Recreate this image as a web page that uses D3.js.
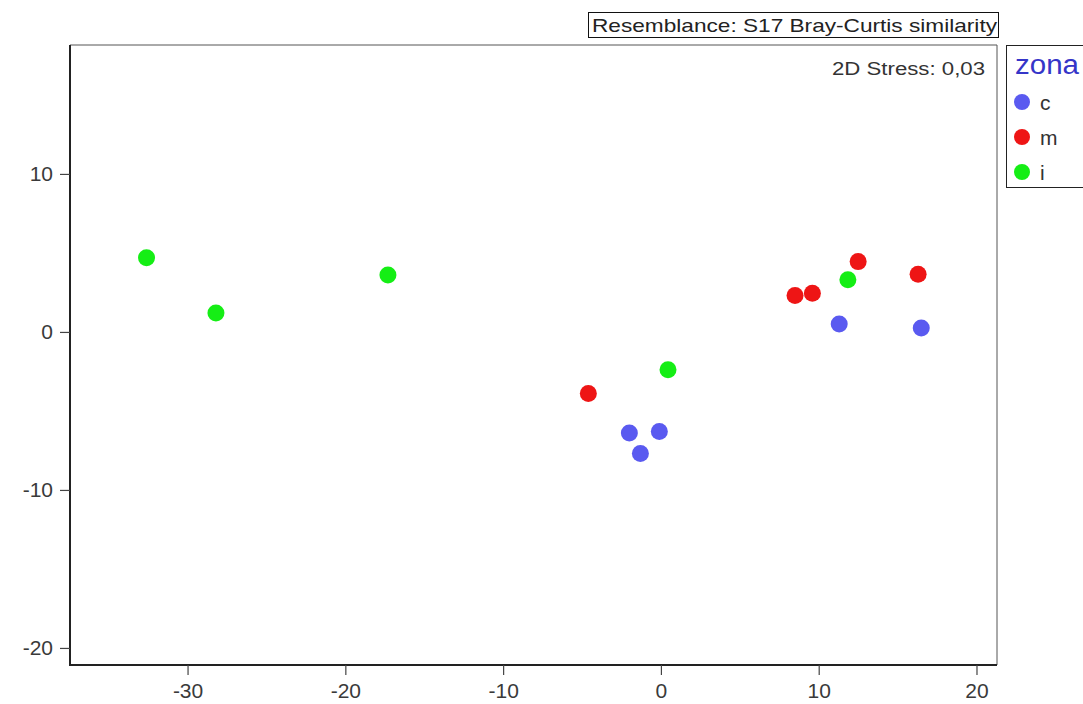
<!DOCTYPE html>
<html><head><meta charset="utf-8">
<script src="https://cdn.jsdelivr.net/npm/d3@7"></script>
<style>body{margin:0;background:#fff;}svg{display:block;font-family:"Liberation Sans",Arial,sans-serif;}</style>
</head><body><svg id="c" width="1083" height="704"></svg>
<script>
const groups = ["c","m","i"];
const groupColors = ["#5a5af0","#ee1515","#15ee15"];
const cX = [-2.0, -1.3, -0.1, 11.3, 16.5];
const cY = [-6.4, -7.7, -6.3, 0.5, 0.25];
const mX = [-4.6, 8.5, 9.6, 12.5, 16.3];
const mY = [-3.9, 2.3, 2.45, 4.45, 3.65];
const iX = [-32.6, -28.2, -17.3, 0.45, 11.85];
const iY = [4.7, 1.2, 3.6, -2.4, 3.3];
const xTicks = [-30,-20,-10,0,10,20];
const yTicks = [-20,-10,0,10];
const title = "Resemblance: S17 Bray-Curtis similarity";
const stressText = "2D Stress: 0,03";
const legendTitle = "zona";

const svg = d3.select("#c");
const L=70,R=997,T=45,B=665;
const x = d3.scaleLinear().domain([-37.45,21.3]).range([L,R]);
const y = d3.scaleLinear().domain([-21.08,18.16]).range([B,T]);
const fmt = d => String(d);

// frame top/right
svg.append("line").attr("x1",L).attr("x2",R).attr("y1",T).attr("y2",T).attr("stroke","#555").attr("stroke-width",1);
svg.append("line").attr("x1",R).attr("x2",R).attr("y1",T).attr("y2",B).attr("stroke","#555").attr("stroke-width",1);

const xa = svg.append("g").attr("transform",`translate(0,${B})`)
  .call(d3.axisBottom(x).tickValues(xTicks).tickSize(10).tickSizeOuter(0).tickPadding(6).tickFormat(fmt));
const ya = svg.append("g").attr("transform",`translate(${L},0)`)
  .call(d3.axisLeft(y).tickValues(yTicks).tickSize(10).tickSizeOuter(0).tickPadding(7).tickFormat(fmt));
[xa,ya].forEach(a=>{
  a.select(".domain").attr("stroke","#222").attr("stroke-width",2);
  a.selectAll(".tick line").attr("stroke","#444").attr("stroke-width",1.2);
  a.selectAll(".tick text").attr("fill","#3a3a3a").attr("font-size",21).attr("font-family","Liberation Sans, Arial, sans-serif");
});
xa.selectAll(".domain").attr("d",`M${L-1},0H${R}`);
ya.selectAll(".domain").attr("d",`M0,${T}V${B+1}`);
xa.selectAll(".tick text").attr("dy","0.8em");

const data = [
  {g:0,xs:cX,ys:cY},{g:1,xs:mX,ys:mY},{g:2,xs:iX,ys:iY}
];
data.forEach(s=>{
  svg.append("g").selectAll("circle").data(s.xs.map((v,i)=>[v,s.ys[i]])).join("circle")
    .attr("cx",d=>x(d[0])).attr("cy",d=>y(d[1])).attr("r",8.5).attr("fill",groupColors[s.g]);
});

// title box
svg.append("rect").attr("x",588.5).attr("y",12.5).attr("width",410).attr("height",25).attr("fill","#fff").attr("stroke","#111");
svg.append("text").attr("x",592).attr("y",32).attr("font-size",19).attr("fill","#222")
  .attr("textLength",405).attr("lengthAdjust","spacingAndGlyphs").text(title);

svg.append("text").attr("x",832).attr("y",75).attr("font-size",18).attr("fill","#333")
  .attr("textLength",153).attr("lengthAdjust","spacingAndGlyphs").text(stressText);

// legend
svg.append("rect").attr("x",1006.5).attr("y",45.5).attr("width",90).attr("height",142).attr("fill","#fff").attr("stroke","#222");
svg.append("text").attr("x",1015).attr("y",74).attr("font-size",27).attr("fill","#3535c8")
  .attr("textLength",64).attr("lengthAdjust","spacingAndGlyphs").text(legendTitle);
const lg = svg.append("g").selectAll("g").data(groups).join("g")
  .attr("transform",(d,i)=>`translate(0,${102+i*35})`);
lg.append("circle").attr("cx",1022).attr("cy",0).attr("r",8).attr("fill",(d,i)=>groupColors[i]);
lg.append("text").attr("x",1040).attr("y",8).attr("font-size",21).attr("fill","#333").text(d=>d);
</script></body></html>
